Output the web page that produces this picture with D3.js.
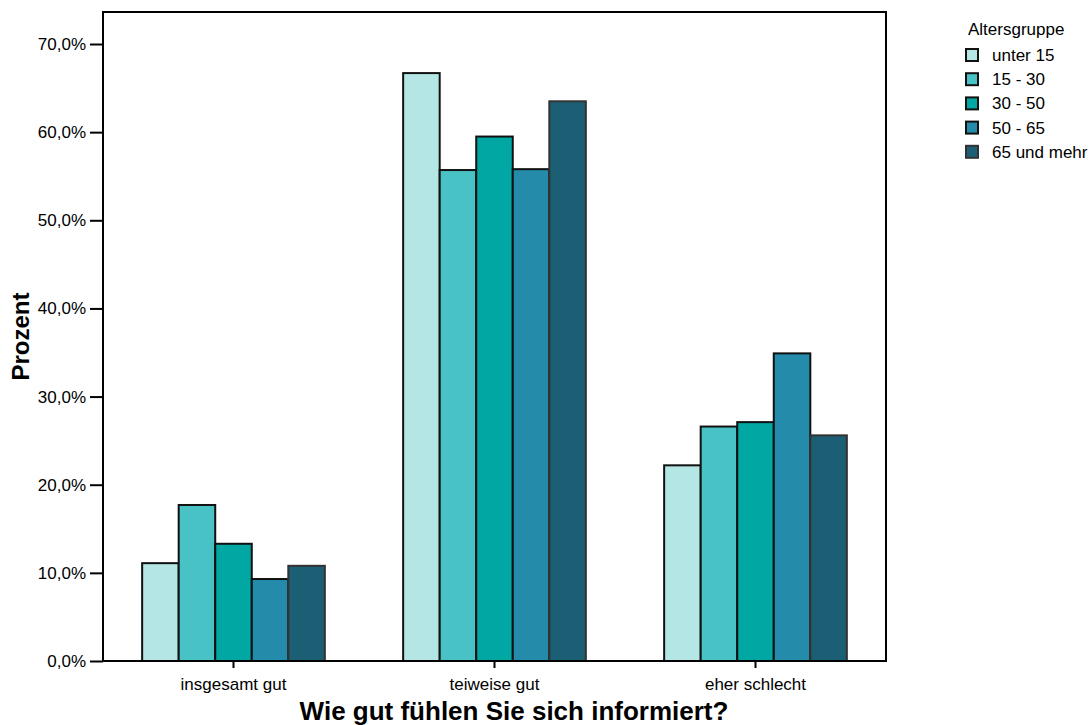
<!DOCTYPE html>
<html>
<head>
<meta charset="utf-8">
<script src="https://cdn.jsdelivr.net/npm/d3@7/dist/d3.min.js"></script>
<style>
  html, body { margin: 0; padding: 0; background: #fff; }
  svg { display: block; font-family: Arial, "Liberation Sans", sans-serif; }
</style>
</head>
<body>
<svg id="chart" width="1091" height="725"></svg>
<script>
const categories = ["insgesamt gut", "teiweise gut", "eher schlecht"];
const groups = ["unter 15", "15 - 30", "30 - 50", "50 - 65", "65 und mehr"];
const colors = ["#b4e6e6", "#49c2c6", "#00a7a3", "#248bab", "#1c5f75"];
const strokes = ["#111", "#111", "#111", "#111", "#333"];
// percentages per category, in group order
const valuesInsgesamtGut = [11.1, 17.7, 13.3, 9.3, 10.8];
const valuesTeiweiseGut = [66.7, 55.7, 59.5, 55.8, 63.5];
const valuesEherSchlecht = [22.2, 26.6, 27.1, 34.9, 25.6];
const yTicks = [0, 10, 20, 30, 40, 50, 60, 70];

const values = [valuesInsgesamtGut, valuesTeiweiseGut, valuesEherSchlecht];

(function () {
const svg = d3.select("#chart");
const pLeft = 103, pRight = 886, pTop = 12, pBottom = 661;
const FONT = "Arial, 'Liberation Sans', sans-serif";

const x0 = d3.scaleBand().domain(categories).range([pLeft, pRight]).paddingInner(0.3).paddingOuter(0.15);
const x1 = d3.scaleBand().domain(groups).range([0, x0.bandwidth()]).padding(0);
const y = d3.scaleLinear().domain([0, 70]).range([pBottom, 44]);

// bars
categories.forEach((c, ci) => {
  const g = svg.append("g").attr("transform", `translate(${x0(c)},0)`);
  g.selectAll("rect").data(values[ci]).enter().append("rect")
    .attr("x", (d, i) => x1(groups[i]))
    .attr("y", d => y(d))
    .attr("width", x1.bandwidth())
    .attr("height", d => y(0) - y(d))
    .attr("fill", (d, i) => colors[i])
    .attr("stroke", (d, i) => strokes[i])
    .attr("stroke-width", 2);
});

// frame
svg.append("rect").attr("x", pLeft).attr("y", pTop).attr("width", pRight - pLeft).attr("height", pBottom - pTop)
  .attr("fill", "none").attr("stroke", "#000").attr("stroke-width", 2);

// y axis
const yAxis = d3.axisLeft(y).tickValues(yTicks).tickSize(13).tickPadding(4)
  .tickFormat(d => d3.format(".1f")(d).replace(".", ",") + "%");
const ya = svg.append("g").attr("transform", `translate(${pLeft},0)`).call(yAxis);
ya.select(".domain").remove();
ya.selectAll(".tick line").attr("stroke", "#000").attr("stroke-width", 2);
ya.selectAll(".tick text").attr("font-size", 17).attr("fill", "#000").attr("font-family", FONT);

// x axis
const xAxis = d3.axisBottom(x0).tickSize(7).tickPadding(10);
const xa = svg.append("g").attr("transform", `translate(0,${pBottom})`).call(xAxis);
xa.select(".domain").remove();
xa.selectAll(".tick line").attr("stroke", "#000").attr("stroke-width", 2);
xa.selectAll(".tick text").attr("font-size", 17).attr("fill", "#000").attr("font-family", FONT);

// axis titles
svg.append("text").attr("x", 514).attr("y", 720).attr("text-anchor", "middle")
  .attr("font-size", 26).attr("font-weight", "bold").text("Wie gut fühlen Sie sich informiert?");
svg.append("text").attr("transform", `translate(29,${(pTop + pBottom) / 2}) rotate(-90)`).attr("text-anchor", "middle")
  .attr("font-size", 24).attr("font-weight", "bold").text("Prozent");

// legend
const lg = svg.append("g");
lg.append("text").attr("x", 968).attr("y", 35).attr("font-size", 17).text("Altersgruppe");
groups.forEach((gname, i) => {
  const yy = 55 + i * 24.2;
  lg.append("rect").attr("x", 966).attr("y", yy - 6).attr("width", 12).attr("height", 12)
    .attr("fill", colors[i]).attr("stroke", strokes[i]).attr("stroke-width", 2);
  lg.append("text").attr("x", 992).attr("y", yy + 6).attr("font-size", 17).text(gname);
});
})();
</script>
</body>
</html>
